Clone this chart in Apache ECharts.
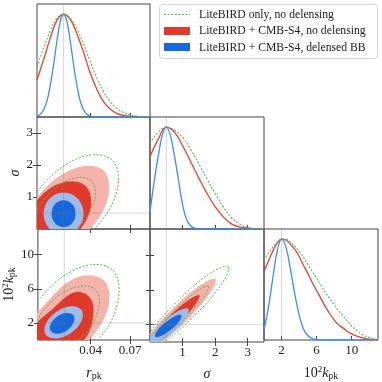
<!DOCTYPE html>
<html>
<head>
<meta charset="utf-8">
<script src="https://cdn.jsdelivr.net/npm/echarts@6/dist/echarts.min.js"></script>
<style>
  html, body { margin: 0; padding: 0; background: #fff; }
  #chart { width: 382px; height: 382px; }
</style>
</head>
<body>
<div id="chart"></div>
<script>
// axis ranges, ticks and fiducial values
const rRange = [0, 0.085];
const sigmaRange = [0, 3.5];
const kRange = [0, 13];
const rTicks = [0.04, 0.07];
const sigmaTicks = [1, 2, 3];
const kTicks = [2, 6, 10];
const fiducial = { r: 0.02, sigma: 0.5, k: 2 };

const legendNames = [
  'LiteBIRD only, no delensing',
  'LiteBIRD + CMB-S4, no delensing',
  'LiteBIRD + CMB-S4, delensed BB'
];

// 1D marginals (normalised to peak)
const rGrid = [0, 0.005, 0.01, 0.015, 0.02, 0.025, 0.03, 0.035, 0.04, 0.045, 0.05, 0.055, 0.06, 0.065, 0.07, 0.075, 0.08, 0.085];
const rGreen = [0.49, 0.67, 0.84, 0.96, 1.0, 0.96, 0.86, 0.71, 0.54, 0.38, 0.25, 0.15, 0.085, 0.044, 0.021, 0.009, 0.004, 0.0015];
const rRed = [0.36, 0.56, 0.77, 0.94, 1.0, 0.95, 0.81, 0.63, 0.43, 0.27, 0.15, 0.078, 0.036, 0.015, 0.006, 0.002, 0.001, 0];
const rBlueGrid = [0, 0.0025, 0.005, 0.0075, 0.01, 0.0125, 0.015, 0.0175, 0.02, 0.0225, 0.025, 0.0275, 0.03, 0.0325, 0.035, 0.0375, 0.04, 0.0425, 0.045, 0.085];
const rBlue = [0.009, 0.027, 0.07, 0.157, 0.31, 0.51, 0.74, 0.93, 1.0, 0.93, 0.74, 0.51, 0.31, 0.157, 0.07, 0.027, 0.009, 0.002, 0, 0];

const sigmaGrid = [0, 0.25, 0.5, 0.75, 1.0, 1.25, 1.5, 1.75, 2.0, 2.25, 2.5, 2.75, 3.0, 3.25, 3.5];
const sigmaGreen = [0.84, 0.95, 1.0, 0.97, 0.90, 0.78, 0.64, 0.49, 0.35, 0.22, 0.11, 0.05, 0.015, 0.005, 0];
const sigmaRed = [0.71, 0.88, 1.0, 0.95, 0.82, 0.66, 0.50, 0.35, 0.22, 0.12, 0.05, 0.02, 0.01, 0, 0];
const sigmaBlueGrid = [0, 0.125, 0.25, 0.375, 0.5, 0.625, 0.75, 0.875, 1.0, 1.125, 1.25, 1.375, 1.5, 3.5];
const sigmaBlue = [0.17, 0.46, 0.71, 0.92, 1.0, 0.92, 0.72, 0.48, 0.24, 0.09, 0.03, 0.008, 0, 0];

const kGrid = [0, 0.5, 1, 1.5, 2, 2.5, 3, 3.5, 4, 4.5, 5, 5.5, 6, 6.5, 7, 7.5, 8, 8.5, 9, 9.5, 10, 10.5, 11, 11.5, 12, 12.5, 13];
const kGreen = [0.79, 0.86, 0.92, 0.97, 1.0, 1.0, 0.97, 0.93, 0.88, 0.82, 0.75, 0.68, 0.61, 0.54, 0.47, 0.41, 0.35, 0.29, 0.24, 0.19, 0.14, 0.10, 0.065, 0.04, 0.025, 0.012, 0.006];
const kRed = [0.68, 0.78, 0.88, 0.96, 1.0, 0.99, 0.95, 0.90, 0.83, 0.74, 0.66, 0.57, 0.49, 0.41, 0.33, 0.26, 0.20, 0.15, 0.12, 0.085, 0.06, 0.04, 0.025, 0.015, 0.008, 0.004, 0.002];
const kBlue = [0.10, 0.32, 0.61, 0.88, 1.0, 0.92, 0.71, 0.46, 0.25, 0.11, 0.044, 0.014, 0.004, 0.001, 0, 0, 0, 0, 0, 0, 0, 0, 0, 0, 0, 0, 0];

// 2D contour outlines [x, y] (68% and 95%)
const rSigGreen95 = [[0.0563, 2.16], [0.0337, 2.25], [0.0059, 1.45], [-0.0108, 0.24], [-0.0066, -0.68], [0.0159, -0.76], [0.0437, 0.03], [0.0605, 1.25]];
const rSigGreen68 = [[0.0408, 1.51], [0.0261, 1.57], [0.0080, 1.05], [-0.0028, 0.26], [-0.0002, -0.33], [0.0145, -0.39], [0.0326, 0.13], [0.0434, 0.92]];
const rSigRed95 = [[0.0497, 1.84], [0.0294, 1.91], [0.0044, 1.20], [-0.0106, 0.11], [-0.0068, -0.72], [0.0135, -0.80], [0.0384, -0.08], [0.0535, 1.01]];
const rSigRed68 = [[0.0363, 1.35], [0.0200, 1.46], [0.0011, 0.95], [-0.0093, 0.13], [-0.0052, -0.53], [0.0111, -0.64], [0.0300, -0.13], [0.0405, 0.69]];
const rSigBlue95 = [[0.035, 0.48], [0.0306, 0.95], [0.02, 1.14], [0.0094, 0.95], [0.005, 0.48], [0.0094, 0.01], [0.02, -0.18], [0.0306, 0.01]];
const rSigBlue68 = [[0.029, 0.48], [0.0264, 0.78], [0.02, 0.90], [0.0136, 0.78], [0.011, 0.48], [0.0136, 0.18], [0.02, 0.06], [0.0264, 0.18]];

const rKGreen95 = [[0.0563, 8.26], [0.0337, 8.58], [0.0059, 5.62], [-0.0108, 1.13], [-0.0066, -2.28], [0.0159, -2.60], [0.0470, 0.30], [0.0610, 4.85]];
const rKGreen68 = [[0.0420, 6.10], [0.0261, 6.05], [0.0080, 4.13], [-0.0028, 1.20], [-0.0002, -1.01], [0.0145, -1.22], [0.0360, 0.70], [0.0465, 4.20]];
const rKRed95 = [[0.0497, 7.04], [0.0294, 7.33], [0.0060, 4.30], [-0.0106, 0.63], [-0.0068, -2.44], [0.0135, -2.73], [0.0384, -0.07], [0.0535, 3.97]];
const rKRed68 = [[0.0391, 5.02], [0.0278, 5.59], [0.0105, 3.53], [-0.0060, 0.91], [-0.0045, -1.60], [0.0180, -1.60], [0.0361, 0.23], [0.0421, 3.19]];
const rKBlue95 = [[0.0331, 3.52], [0.0251, 3.96], [0.0139, 3.29], [0.0060, 1.91], [0.0060, 0.62], [0.0140, 0.18], [0.0252, 0.85], [0.0331, 2.23]];
const rKBlue68 = [[0.0271, 2.88], [0.0219, 3.17], [0.0147, 2.76], [0.0097, 1.86], [0.0098, 1.04], [0.0150, 0.74], [0.0221, 1.15], [0.0271, 2.05]];

const sigKGreen95 = [[2.40, 8.67], [1.84, 7.88], [0.84, 4.69], [-0.02, 0.98], [-0.23, -1.08], [0.33, -0.29], [1.33, 2.90], [2.19, 6.61]];
const sigKGreen68 = [[1.79, 6.42], [1.40, 5.73], [0.66, 3.29], [0.01, 0.55], [-0.18, -0.90], [0.21, -0.21], [0.95, 2.23], [1.61, 4.98]];
const sigKRed95 = [[2.01, 7.22], [1.53, 6.50], [0.67, 3.73], [-0.08, 0.52], [-0.27, -1.24], [0.20, -0.52], [1.07, 2.25], [1.81, 5.46]];
const sigKRed68 = [[1.52, 5.39], [1.18, 4.83], [0.55, 2.78], [0, 0.46], [-0.15, -0.79], [0.19, -0.23], [0.81, 1.82], [1.36, 4.14]];
const sigKBlue95 = [[1.18, 3.81], [0.90, 3.62], [0.41, 2.32], [0.02, 0.68], [-0.07, -0.36], [0.22, -0.17], [0.70, 1.13], [1.10, 2.77]];
const sigKBlue68 = [[0.96, 3.09], [0.78, 3.00], [0.47, 2.23], [0.21, 1.23], [0.16, 0.59], [0.33, 0.68], [0.65, 1.45], [0.91, 2.45]];

const GREEN = '#5db657';
const RED_LINE = '#e4412f';
const RED_DARK = '#e13a2b';
const RED_LIGHT = '#f5b3ab';
const BLUE_LINE = '#3b8ef3';
const BLUE_DARK = '#1668dc';
const BLUE_LIGHT = '#a0bbe8';
const FRAME = '#444';
const FONT = 'Liberation Serif';

const chart = echarts.init(document.getElementById('chart'));

// panels: 0 r-1D, 1 r/sigma, 2 sigma-1D, 3 r/k, 4 sigma/k, 5 k-1D
const grids = [
  { left: 37, top: 4, width: 113, height: 113 },
  { left: 37, top: 117, width: 113, height: 112 },
  { left: 150, top: 117, width: 114, height: 112 },
  { left: 37, top: 229, width: 113, height: 114 },
  { left: 150, top: 229, width: 114, height: 114 },
  { left: 264, top: 229, width: 114, height: 114 }
].map(g => Object.assign(g, { show: true, borderColor: FRAME, borderWidth: 1, backgroundColor: 'transparent' }));

const rich = {
  i: { fontFamily: FONT, fontStyle: 'italic', fontSize: 14, color: '#222' },
  n: { fontFamily: FONT, fontSize: 14, color: '#222' },
  p: { fontFamily: FONT, fontSize: 9, color: '#222', verticalAlign: 'top' },
  s: { fontFamily: FONT, fontSize: 10, color: '#222', verticalAlign: 'bottom', padding: [6, 0, 0, 0] }
};

function valAxis(gridIndex, range, ticks, opt) {
  opt = opt || {};
  return {
    type: 'value', gridIndex, min: range[0], max: range[1],
    position: opt.position,
    axisLine: { show: false },
    splitLine: { show: false },
    axisTick: { show: true, inside: true, length: 4, customValues: ticks, lineStyle: { color: FRAME } },
    axisLabel: {
      show: !!opt.labels, customValues: ticks, margin: opt.margin || 4,
      fontFamily: FONT, fontSize: 13, color: '#222'
    },
    name: opt.name, nameLocation: 'middle', nameGap: opt.nameGap, nameRotate: opt.nameRotate,
    nameTextStyle: { rich }
  };
}
function hiddenAxis(gridIndex) {
  return { type: 'value', gridIndex, min: 0, max: 1.1, show: false };
}

const xAxis = [
  valAxis(0, rRange, rTicks),
  valAxis(1, rRange, rTicks),
  valAxis(1, rRange, rTicks, { position: 'top' }),
  valAxis(2, sigmaRange, sigmaTicks),
  valAxis(3, rRange, rTicks, { labels: true, name: '{i|r}{s|pk}', nameGap: 25 }),
  valAxis(3, rRange, rTicks, { position: 'top' }),
  valAxis(4, sigmaRange, sigmaTicks, { labels: true, name: '{i|σ}', nameGap: 25 }),
  valAxis(4, sigmaRange, sigmaTicks, { position: 'top' }),
  valAxis(5, kRange, kTicks, { labels: true, name: '{n|10}{p|2}{i|k}{s|pk}', nameGap: 25 })
];
const yAxis = [
  hiddenAxis(0),
  valAxis(1, sigmaRange, sigmaTicks, { labels: true, name: '{i|σ}', nameGap: 14, nameRotate: 90 }),
  valAxis(1, sigmaRange, sigmaTicks, { position: 'right' }),
  hiddenAxis(2),
  valAxis(3, kRange, kTicks, { labels: true, name: '{n|10}{p|2}{i|k}{s|pk}', nameGap: 20, nameRotate: 90 }),
  valAxis(3, kRange, kTicks, { position: 'right' }),
  valAxis(4, kRange, kTicks),
  valAxis(4, kRange, kTicks, { position: 'right' }),
  hiddenAxis(5)
];

const series = [];
function curve(xs, ys, xi, yi, color, dotted) {
  series.push({
    type: 'line', xAxisIndex: xi, yAxisIndex: yi, silent: true,
    data: xs.map((x, i) => [x, ys[i]]),
    smooth: 0.4, symbol: 'none',
    lineStyle: { color, width: dotted ? 1.1 : 1.3, type: dotted ? [2, 1.6] : 'solid' }
  });
}
function contour(points, xi, yi, style) {
  series.push({
    type: 'custom', xAxisIndex: xi, yAxisIndex: yi, clip: true, silent: true,
    data: [points[0]],
    renderItem: (params, api) => ({
      type: 'polygon',
      shape: { points: points.map(p => api.coord(p)), smooth: 0.38 },
      style
    })
  });
}
function guide(points, xi, yi) {
  series.push({
    type: 'line', xAxisIndex: xi, yAxisIndex: yi, silent: true, data: points, symbol: 'none',
    lineStyle: { color: 'rgba(120,120,120,0.3)', width: 1 }
  });
}
const fillRed95 = { fill: RED_LIGHT };
const fillRed68 = { fill: RED_DARK };
const fillBlue95 = { fill: BLUE_LIGHT };
const fillBlue68 = { fill: BLUE_DARK };
const greenEdge = { fill: 'none', stroke: GREEN, lineWidth: 1, lineDash: [2, 1.6] };

function panel2D(sets, xi, yi, fx, fy, xr, yr) {
  contour(sets[2], xi, yi, fillRed95);
  contour(sets[3], xi, yi, fillRed68);
  contour(sets[4], xi, yi, fillBlue95);
  contour(sets[5], xi, yi, fillBlue68);
  contour(sets[0], xi, yi, greenEdge);
  contour(sets[1], xi, yi, greenEdge);
  guide([[fx, yr[0]], [fx, yr[1]]], xi, yi);
  guide([[xr[0], fy], [xr[1], fy]], xi, yi);
}
function panel1D(xs, g, r, bx, b, xi, yi, f) {
  curve(xs, r, xi, yi, RED_LINE, false);
  curve(bx, b, xi, yi, BLUE_LINE, false);
  curve(xs, g, xi, yi, GREEN, true);
  guide([[f, 0], [f, 1.1]], xi, yi);
}

panel1D(rGrid, rGreen, rRed, rBlueGrid, rBlue, 0, 0, fiducial.r);
panel2D([rSigGreen95, rSigGreen68, rSigRed95, rSigRed68, rSigBlue95, rSigBlue68], 1, 1, fiducial.r, fiducial.sigma, rRange, sigmaRange);
panel1D(sigmaGrid, sigmaGreen, sigmaRed, sigmaBlueGrid, sigmaBlue, 3, 3, fiducial.sigma);
panel2D([rKGreen95, rKGreen68, rKRed95, rKRed68, rKBlue95, rKBlue68], 4, 4, fiducial.r, fiducial.k, rRange, kRange);
panel2D([sigKGreen95, sigKGreen68, sigKRed95, sigKRed68, sigKBlue95, sigKBlue68], 6, 6, fiducial.sigma, fiducial.k, sigmaRange, kRange);
panel1D(kGrid, kGreen, kRed, kGrid, kBlue, 8, 8, fiducial.k);

// legend box in the empty upper-right corner
const legendText = (text, y) => ({
  type: 'text', x: 199, y, silent: true,
  style: { text, fontFamily: FONT, fontSize: 11.7, fill: '#222', verticalAlign: 'middle' }
});
const graphic = [
  { type: 'rect', silent: true, shape: { x: 159.5, y: 4.5, width: 218, height: 54, r: 3 }, style: { fill: '#fff', stroke: '#d4d4d4', lineWidth: 1 } },
  { type: 'line', silent: true, shape: { x1: 164, y1: 14.5, x2: 190, y2: 14.5 }, style: { stroke: GREEN, lineWidth: 1, lineDash: [2, 1.6] } },
  { type: 'rect', silent: true, shape: { x: 164, y: 27, width: 26, height: 8 }, style: { fill: RED_DARK } },
  { type: 'rect', silent: true, shape: { x: 164, y: 43, width: 26, height: 8 }, style: { fill: BLUE_DARK } },
  legendText(legendNames[0], 15),
  legendText(legendNames[1], 31),
  legendText(legendNames[2], 47.5)
];

chart.setOption({
  animation: false,
  grid: grids,
  xAxis,
  yAxis,
  series,
  graphic
});
</script>
</body>
</html>
